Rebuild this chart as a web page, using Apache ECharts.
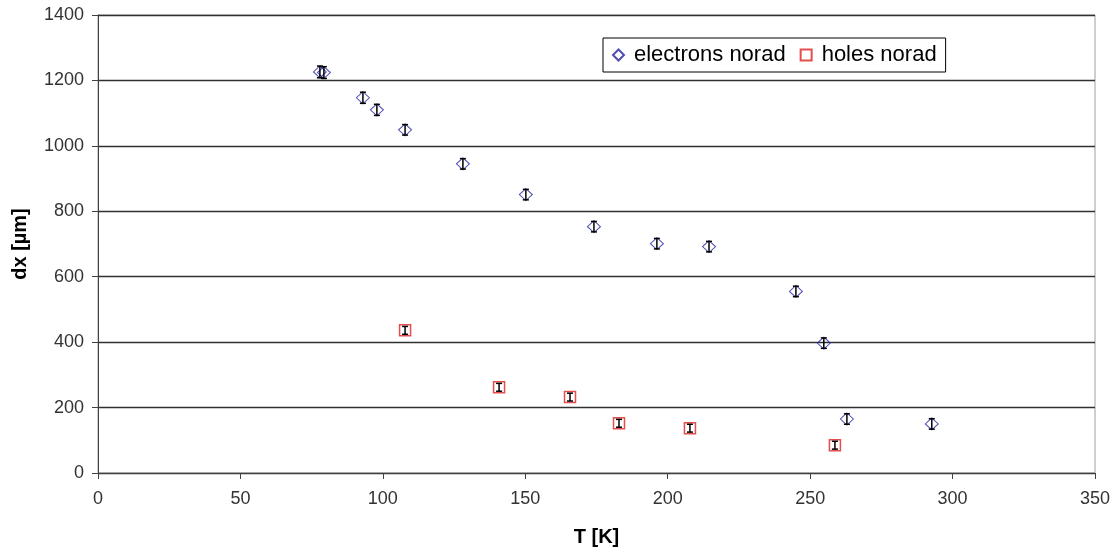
<!DOCTYPE html>
<html>
<head>
<meta charset="utf-8">
<script src="https://cdn.jsdelivr.net/npm/echarts@6/dist/echarts.min.js"></script>
<style>
  html, body { margin: 0; padding: 0; background: #fff; }
  #myChart { width: 1118px; height: 552px; }
</style>
</head>
<body>
<div id="myChart"></div>
<script>
  // T [K], dx [um], error
  var electronsT = [77.9, 79.3, 93.0, 97.9, 107.8, 128.1, 150.2, 174.1, 196.2, 214.5, 245.0, 254.8, 262.9, 292.7]
  var electronsDx = [1226, 1224, 1147, 1110, 1049, 945, 851, 753, 701, 692, 555, 397, 165, 150]
  var electronsErr = [18, 18, 17, 17, 16, 16, 16, 16, 16, 16, 16, 16, 16, 16]

  var holesT = [107.8, 140.8, 165.7, 182.9, 207.8, 258.7]
  var holesDx = [436, 262, 232, 152, 137, 85]
  var holesErr = [12, 12, 12, 12, 12, 12]

  var xTicks = [0, 50, 100, 150, 200, 250, 300, 350]
  var yTicks = [0, 200, 400, 600, 800, 1000, 1200, 1400]

  function pairs (xs, ys) {
    var out = []
    for (var i = 0; i < xs.length; i++) out.push([xs[i], ys[i]])
    return out
  }
  function errData (xs, ys, es) {
    var out = []
    for (var i = 0; i < xs.length; i++) out.push([xs[i], ys[i] - es[i], ys[i] + es[i]])
    return out
  }
  function renderErr (params, api) {
    var lo = api.coord([api.value(0), api.value(1)])
    var hi = api.coord([api.value(0), api.value(2)])
    var w = 3
    var st = { stroke: '#000', lineWidth: 1.5 }
    return {
      type: 'group',
      children: [
        { type: 'line', shape: { x1: lo[0], y1: lo[1], x2: hi[0], y2: hi[1] }, style: st },
        { type: 'line', shape: { x1: lo[0] - w, y1: lo[1], x2: lo[0] + w, y2: lo[1] }, style: st },
        { type: 'line', shape: { x1: hi[0] - w, y1: hi[1], x2: hi[0] + w, y2: hi[1] }, style: st }
      ]
    }
  }

  var font = 'Liberation Sans, Arial, sans-serif'
  var myChart = echarts.init(document.getElementById('myChart'), null, { renderer: 'canvas' })
  myChart.setOption({
    animation: false,
    backgroundColor: '#fff',
    textStyle: { fontFamily: font },
    grid: { left: 98, right: 23, top: 15, bottom: 78, show: true, borderColor: '#a0a0a0', borderWidth: 1 },
    legend: {
      left: 603,
      top: 38,
      padding: [6, 9, 6, 9],
      borderColor: '#000',
      borderWidth: 1,
      itemWidth: 11,
      itemHeight: 11,
      itemGap: 14,
      textStyle: { fontFamily: font, fontSize: 22, color: '#000', padding: [0, 0, 0, 5] },
      data: [
        { name: 'electrons norad', icon: 'diamond' },
        { name: 'holes norad', icon: 'rect' }
      ]
    },
    xAxis: {
      type: 'value',
      min: 0,
      max: 350,
      interval: 50,
      name: 'T [K]',
      nameLocation: 'middle',
      nameGap: 54,
      nameTextStyle: { fontFamily: font, fontSize: 20, fontWeight: 'bold', color: '#000' },
      axisLine: { show: true, lineStyle: { color: '#404040', width: 1 } },
      axisTick: { show: true, inside: false, length: 6, lineStyle: { color: '#404040' } },
      axisLabel: { fontFamily: font, fontSize: 18, color: '#333', margin: 17,
        formatter: function (v) { return xTicks.indexOf(v) >= 0 ? String(v) : '' } },
      splitLine: { show: false }
    },
    yAxis: {
      type: 'value',
      min: 0,
      max: 1400,
      interval: 200,
      name: 'dx [µm]',
      nameLocation: 'middle',
      nameGap: 68,
      nameTextStyle: { fontFamily: font, fontSize: 20, fontWeight: 'bold', color: '#000' },
      axisLine: { show: true, lineStyle: { color: '#404040', width: 1 } },
      axisTick: { show: true, inside: false, length: 6, lineStyle: { color: '#404040' } },
      axisLabel: { fontFamily: font, fontSize: 18, color: '#333', margin: 14,
        formatter: function (v) { return yTicks.indexOf(v) >= 0 ? String(v) : '' } },
      splitLine: { show: true, lineStyle: { color: '#303030', width: 1.3 } }
    },
    series: [
      {
        name: 'electrons norad',
        type: 'scatter',
        symbol: 'diamond',
        symbolSize: [13, 12],
        itemStyle: { color: 'rgba(255,255,255,0)', borderColor: '#2020a0', borderWidth: 1 },
        data: pairs(electronsT, electronsDx),
        z: 3
      },
      {
        name: 'holes norad',
        type: 'scatter',
        symbol: 'rect',
        symbolSize: 11,
        itemStyle: { color: 'rgba(255,255,255,0)', borderColor: '#e02020', borderWidth: 1.5 },
        data: pairs(holesT, holesDx),
        z: 3
      },
      {
        name: 'electrons err',
        type: 'custom',
        renderItem: renderErr,
        encode: { x: 0, y: [1, 2] },
        data: errData(electronsT, electronsDx, electronsErr),
        z: 4
      },
      {
        name: 'holes err',
        type: 'custom',
        renderItem: renderErr,
        encode: { x: 0, y: [1, 2] },
        data: errData(holesT, holesDx, holesErr),
        z: 4
      }
    ]
  })
</script>
</body>
</html>
